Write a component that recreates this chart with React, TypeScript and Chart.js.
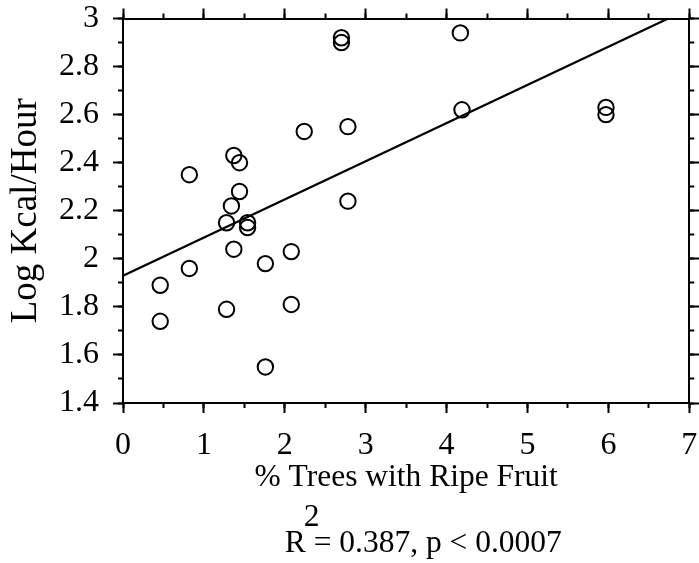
import { useEffect, useRef } from 'react';
import { Chart, registerables } from 'chart.js';

Chart.register(...registerables);

const FONT = '"Liberation Serif", "Times New Roman", Times, serif';

// % trees with ripe fruit (x) and log kcal/hour (y)
const fruitPct = [0.46, 0.46, 0.82, 0.82, 1.28, 1.28, 1.34, 1.37, 1.44, 1.44, 1.37, 1.54, 1.54, 1.76, 1.76, 2.08, 2.08, 2.24, 2.70, 2.70, 2.78, 2.78, 4.17, 4.19, 5.97, 5.97];
const logKcal = [1.89, 1.74, 2.35, 1.96, 1.79, 2.15, 2.22, 2.43, 2.40, 2.28, 2.04, 2.15, 2.13, 1.55, 1.98, 2.03, 1.81, 2.53, 2.92, 2.90, 2.55, 2.24, 2.94, 2.62, 2.63, 2.60];

// regression line end points
const fitX = [0, 6.74];
const fitY = [1.93, 3.0];

const xTickLabels = ['0', '1', '2', '3', '4', '5', '6', '7'];
const yTickLabels = ['1.4', '1.6', '1.8', '2', '2.2', '2.4', '2.6', '2.8', '3'];

const xTitle = '% Trees with Ripe Fruit';
const yTitle = 'Log Kcal/Hour';
const statText = 'R = 0.387, p < 0.0007';
const statExp = '2';

const statPlugin = {
  id: 'statText',
  afterDraw(chart: any) {
    const ctx = chart.ctx;
    const xs = chart.scales.x;
    const area = chart.chartArea;
    ctx.save();
    ctx.font = `31.5px ${FONT}`;
    ctx.fillStyle = '#000';
    ctx.textAlign = 'left';
    ctx.textBaseline = 'alphabetic';
    const left = xs.getPixelForValue(2);
    ctx.fillText(statText, left, area.bottom + 149);
    const rw = ctx.measureText('R').width;
    ctx.fillText(statExp, left + rw - 2, area.bottom + 123);
    ctx.restore();
  },
};

function majorGrid() {
  return { display: true, drawOnChartArea: false, drawTicks: true, tickLength: 10, tickColor: '#000', tickWidth: 2 };
}
function minorGrid() {
  return { display: true, drawOnChartArea: false, drawTicks: true, tickLength: 5, tickColor: '#000', tickWidth: 2 };
}
function fix(size: number, horizontal: boolean) {
  return (s: any) => {
    if (horizontal) s.height = size; else s.width = size;
    s.paddingTop = 0; s.paddingBottom = 0; s.paddingLeft = 0; s.paddingRight = 0;
  };
}

export default function App() {
  const ref = useRef<HTMLCanvasElement | null>(null);
  useEffect(() => {
    if (!ref.current) return;
    const chart = new Chart(ref.current, {
      type: 'scatter',
      data: {
        datasets: [
          {
            type: 'scatter',
            data: fruitPct.map((x, i) => ({ x, y: logKcal[i] })),
            pointStyle: 'circle',
            pointRadius: 7.7,
            pointBorderWidth: 2,
            borderColor: '#000',
            backgroundColor: 'rgba(0,0,0,0)',
            pointBackgroundColor: 'rgba(0,0,0,0)',
            pointBorderColor: '#000',
            xAxisID: 'x',
            yAxisID: 'y',
          } as any,
          {
            type: 'line',
            data: fitX.map((x, i) => ({ x, y: fitY[i] })),
            borderColor: '#000',
            borderWidth: 2.2,
            pointRadius: 0,
            fill: false,
            xAxisID: 'x',
            yAxisID: 'y',
          } as any,
        ],
      },
      options: {
        responsive: false,
        maintainAspectRatio: false,
        animation: false,
        layout: { padding: 0 },
        plugins: { legend: { display: false }, tooltip: { enabled: false }, title: { display: false } },
        scales: {
          x: {
            type: 'linear', position: 'bottom', min: 0, max: 7, weight: 0,
            ticks: {
              stepSize: 1, color: '#000', font: { family: FONT, size: 32 }, padding: 13,
              autoSkip: false, maxRotation: 0,
              callback: (_v: any, i: number) => xTickLabels[i] ?? '',
            },
            grid: majorGrid(),
            border: { display: true, color: '#000', width: 2 },
            title: { display: true, text: xTitle, color: '#000', font: { family: FONT, size: 31.5 }, padding: { top: 0, bottom: 66 } },
            afterFit: fix(160, true),
          },
          xMinor: {
            type: 'linear', position: 'bottom', min: 0, max: 7, weight: -10,
            ticks: { stepSize: 0.5, display: false },
            grid: minorGrid(),
            border: { display: false },
            afterFit: fix(0, true),
          },
          xTop: {
            type: 'linear', position: 'top', min: 0, max: 7, weight: 0,
            ticks: { stepSize: 1, display: false },
            grid: majorGrid(),
            border: { display: true, color: '#000', width: 2 },
            afterFit: fix(18.5, true),
          },
          xTopMinor: {
            type: 'linear', position: 'top', min: 0, max: 7, weight: -10,
            ticks: { stepSize: 0.5, display: false },
            grid: minorGrid(),
            border: { display: false },
            afterFit: fix(0, true),
          },
          y: {
            type: 'linear', position: 'left', min: 1.4, max: 3, weight: 0,
            ticks: {
              stepSize: 0.2, color: '#000', font: { family: FONT, size: 32 }, padding: 14,
              autoSkip: false,
              callback: (_v: any, i: number) => yTickLabels[i] ?? '',
            },
            grid: majorGrid(),
            border: { display: true, color: '#000', width: 2 },
            title: { display: true, text: yTitle, color: '#000', font: { family: FONT, size: 37 }, padding: { top: 4, bottom: 0 } },
            afterFit: fix(123, false),
          },
          yMinor: {
            type: 'linear', position: 'left', min: 1.4, max: 3, weight: -10,
            ticks: { stepSize: 0.1, display: false },
            grid: minorGrid(),
            border: { display: false },
            afterFit: fix(0, false),
          },
          yRight: {
            type: 'linear', position: 'right', min: 1.4, max: 3, weight: 0,
            ticks: { stepSize: 0.2, display: false },
            grid: majorGrid(),
            border: { display: true, color: '#000', width: 2 },
            afterFit: fix(5, false),
          },
          yRightMinor: {
            type: 'linear', position: 'right', min: 1.4, max: 3, weight: -10,
            ticks: { stepSize: 0.1, display: false },
            grid: minorGrid(),
            border: { display: false },
            afterFit: fix(0, false),
          },
        } as any,
      },
      plugins: [statPlugin],
    });
    return () => chart.destroy();
  }, []);
  return (
    <div style={{ position: 'absolute', left: 0, top: 0, width: 699, height: 563, background: '#fff' }}>
      <canvas ref={ref} width={699} height={563} style={{ display: 'block' }} />
    </div>
  );
}
